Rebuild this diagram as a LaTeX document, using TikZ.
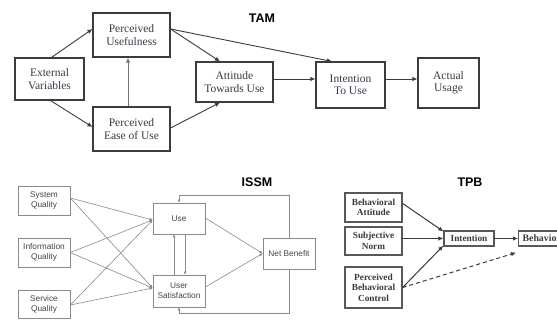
\documentclass[tikz,border=0pt]{standalone}
\usepackage{fontspec}
\setmainfont{Liberation Serif}
\setsansfont{Liberation Sans}
\usetikzlibrary{arrows.meta,calc}
\definecolor{tamtext}{HTML}{3A3A48}
\definecolor{tamline}{HTML}{3C3C3C}
\definecolor{issmline}{HTML}{8A8A8A}
\definecolor{issmtext}{HTML}{444444}
\definecolor{tpbline}{HTML}{3A3A3A}
\tikzset{
  tambox/.style={draw=tamline, line width=1.1pt, inner sep=1pt, align=center,
    font=\fontsize{11.5}{12.5}\selectfont, text=tamtext},
  tamarr/.style={draw=tamline, line width=0.9pt, -{Latex[length=5pt,width=4.5pt]}},
  issmbox/.style={draw=issmline, line width=0.8pt, inner sep=1pt, align=center,
    font=\sffamily\fontsize{8.3}{10}\selectfont, text=issmtext},
  issmarr/.style={draw=issmline, line width=0.6pt, -{Latex[length=3pt,width=3pt]}},
  tpbbox/.style={draw=tpbline!85, line width=1.3pt, inner sep=1pt, align=center,
    font=\bfseries\fontsize{9.3}{10.5}\selectfont, text=tpbline},
  tpbarr/.style={draw=tpbline, line width=1pt, -{Latex[length=5pt,width=4.5pt]}},
  ttl/.style={font=\sffamily\bfseries\fontsize{12.5}{13}\selectfont, text=black},
}
\begin{document}
\begin{tikzpicture}[x=1pt,y=-1pt]
\useasboundingbox (0,0) rectangle (557,320);
\clip (0,0) rectangle (557,320);
\fill[white] (0,0) rectangle (557,320);
% ---------------- TAM ----------------
\node[ttl] (ttam) at (262,18) {TAM};
\node[tambox, minimum width=69pt, minimum height=42pt] (ev) at (49.5,79) {External\\Variables};
\node[tambox, minimum width=77pt, minimum height=44pt] (pu) at (131.5,35) {Perceived\\Usefulness};
\node[tambox, minimum width=77pt, minimum height=44pt] (pe) at (131.5,129) {Perceived\\Ease of Use};
\node[tambox, minimum width=77pt, minimum height=40pt] (at) at (234.5,82) {Attitude\\Towards Use};
\node[tambox, minimum width=69pt, minimum height=46pt] (it) at (350.5,85) {Intention\\To Use};
\node[tambox, minimum width=61pt, minimum height=50pt] (au) at (448.5,83) {Actual\\Usage};
\draw[tamarr] ([xshift=2pt]ev.north) -- ([yshift=6pt]pu.west);
\draw[tamarr] ([xshift=1pt]ev.south) -- ([yshift=2pt]pe.west);
\draw[tamarr, draw=tamline!70] ([xshift=-3.5pt]pe.north) -- ([xshift=-3.5pt]pu.south);
\draw[tamarr] ([yshift=6pt]pu.east) -- ([xshift=-14.5pt]at.north);
\draw[tamarr] ([yshift=1pt]pe.east) -- ([xshift=-14.5pt]at.south);
\draw[tamarr] ([yshift=6pt]pu.east) -- ([xshift=-18.5pt]it.north);
\draw[tamarr] ([yshift=3pt]at.east) -- ([yshift=3pt]at.east -| it.west);
\draw[tamarr] ([yshift=6pt]it.east) -- ([yshift=6pt]it.east -| au.west);
% ---------------- ISSM ----------------
\node[ttl] (tissm) at (257,182) {ISSM};
\node[issmbox, minimum width=52pt, minimum height=29pt] (sq) at (44,200.5) {System\\Quality};
\node[issmbox, minimum width=52pt, minimum height=29pt] (iq) at (44,252.5) {Information\\Quality};
\node[issmbox, minimum width=52pt, minimum height=28pt] (svq) at (44,304) {Service\\Quality};
\node[issmbox, minimum width=52pt, minimum height=31pt] (use) at (179,218.5) {Use};
\node[issmbox, minimum width=52pt, minimum height=32pt] (us) at (179,291) {User\\Satisfaction};
\node[issmbox, minimum width=52pt, minimum height=31pt] (nb) at (289,253.5) {Net Benefit};
\foreach \s/\d in {sq/2.5,iq/0,svq/-1}{
  \draw[issmarr] ([yshift=\d pt]\s.east) -- ([yshift=-1.5pt]use.west);
  \draw[issmarr] ([yshift=\d pt]\s.east) -- ([yshift=3pt]us.west);
}
\draw[issmarr] ([yshift=0.5pt]use.east) -- (nb.west);
\draw[issmarr] ([yshift=4pt]us.east) -- (nb.west);
\draw[issmarr] ([xshift=-5pt]us.north) -- ([xshift=-5pt]use.south);
\draw[issmarr] ([xshift=6pt]use.south) -- ([xshift=6pt]us.north);
\coordinate (fbtop) at ([yshift=7pt]use.north);
\coordinate (fbbot) at ([yshift=-6pt]us.south);
\draw[issmarr] (nb.north) |- (fbtop) -- (use.north);
\draw[issmarr] (nb.south) |- (fbbot) -- (us.south);
% ---------------- TPB ----------------
\node[ttl] (ttpb) at (470,182) {TPB};
\node[tpbbox, minimum width=57pt, minimum height=29pt] (ba) at (373.5,207.5) {Behavioral\\Attitude};
\node[tpbbox, minimum width=57pt, minimum height=28pt] (sn) at (373.5,241) {Subjective\\Norm};
\node[tpbbox, minimum width=57pt, minimum height=41pt] (pbc) at (373.5,287.5) {Perceived\\Behavioral\\Control};
\node[tpbbox, minimum width=50pt, minimum height=15pt] (int) at (469,238.5) {Intention};
\node[tpbbox, anchor=west, minimum height=15pt, inner xsep=4pt, font=\bfseries\fontsize{9.8}{10.5}\selectfont] (beh) at (518,238.5) {Behavior};
\draw[tpbarr] ([yshift=4pt]ba.east) -- ([yshift=-1pt]int.north west);
\draw[tpbarr] (int.west -| sn.east) -- (int.west);
\draw[tpbarr] (pbc.east) -- ([yshift=1pt]int.south west);
\draw[tpbarr] (int.east) -- (beh.west);
\draw[tpbarr, dashed, dash pattern=on 4pt off 3pt] (pbc.east) -- ([xshift=-2pt,yshift=-6pt]beh.south west);
\end{tikzpicture}
\end{document}
